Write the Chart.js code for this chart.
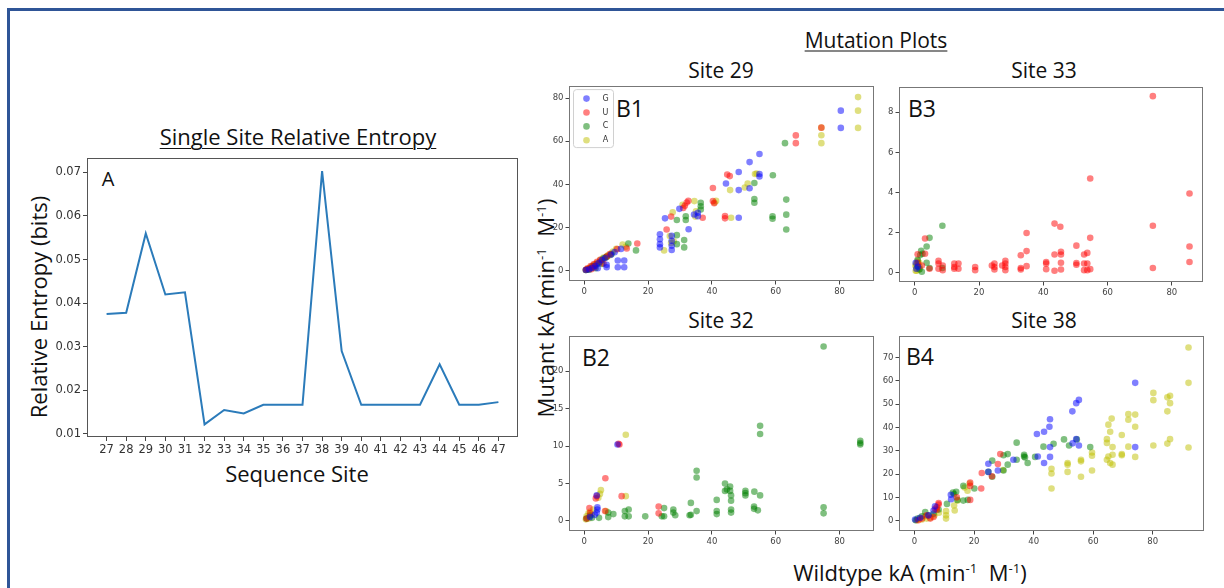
<!DOCTYPE html>
<html>
<head>
<meta charset="utf-8">
<script src="https://cdn.jsdelivr.net/npm/chart.js@4/dist/chart.umd.min.js"></script>
<style>
  html, body { margin: 0; padding: 0; background: #fff; }
  body { width: 1224px; height: 588px; position: relative; overflow: hidden; font-family: "Open Sans", sans-serif; color: #111; }
  canvas { position: absolute; }
  .txt { position: absolute; white-space: nowrap; line-height: 1; transform: translate(-50%, -50%); }
  .ul { text-decoration: underline; text-underline-offset: 3px; text-decoration-thickness: 1px; }
  .vert { transform: translate(-50%, -50%) rotate(-90deg); }
  sup { font-size: 60%; vertical-align: 0.6em; line-height: 0; }
  .bar { position: absolute; background: #2f5597; }
</style>
</head>
<body>
<div class="bar" style="left:7px; top:8px; width:1217px; height:3px;"></div>
<div class="bar" style="left:7px; top:8px; width:3px; height:580px;"></div>

<div class="txt ul" style="left:298px; top:136px; font-size:22px;">Single Site Relative Entropy</div>
<div class="txt vert" style="left:38px; top:307px; font-size:22px;">Relative Entropy (bits)</div>
<div class="txt" style="left:297px; top:473px; font-size:22px;">Sequence Site</div>
<div class="txt" style="left:108px; top:179px; font-size:20px;">A</div>

<div class="txt ul" style="left:876px; top:40px; font-size:21px;">Mutation Plots</div>
<div class="txt" style="left:721px; top:70px; font-size:21px;">Site 29</div>
<div class="txt" style="left:1044px; top:70px; font-size:21px;">Site 33</div>
<div class="txt" style="left:721px; top:320px; font-size:21px;">Site 32</div>
<div class="txt" style="left:1044px; top:320px; font-size:21px;">Site 38</div>
<div class="txt vert" style="left:545px; top:308px; font-size:22px;">Mutant kA (min<sup>-1</sup>&nbsp; M<sup>-1</sup>)</div>
<div class="txt" style="left:910px; top:572px; font-size:22px;">Wildtype kA (min<sup>-1</sup>&nbsp; M<sup>-1</sup>)</div>
<div class="txt" style="left:630px; top:108px; font-size:23px;">B1</div>
<div class="txt" style="left:922px; top:108px; font-size:23px;">B3</div>
<div class="txt" style="left:596px; top:357px; font-size:23px;">B2</div>
<div class="txt" style="left:920px; top:356px; font-size:23px;">B4</div>

<canvas id="entropyChart"></canvas>
<canvas id="site29Chart"></canvas>
<canvas id="site33Chart"></canvas>
<canvas id="site32Chart"></canvas>
<canvas id="site38Chart"></canvas>

<script>
// relative entropy per sequence site
const sites = [27, 28, 29, 30, 31, 32, 33, 34, 35, 36, 37, 38, 39, 40, 41, 42, 43, 44, 45, 46, 47];
const entropy = [0.0375, 0.0378, 0.0560, 0.0420, 0.0425, 0.0122, 0.0155, 0.0147, 0.0167, 0.0167, 0.0167,
  0.0703, 0.0290, 0.0167, 0.0167, 0.0167, 0.0167, 0.0260, 0.0167, 0.0167, 0.0173];
const entropyTicks = [0.01, 0.02, 0.03, 0.04, 0.05, 0.06, 0.07];

const bases = ["G", "U", "C", "A"];
const baseColors = ["rgba(0,0,255,0.5)", "rgba(255,0,0,0.5)", "rgba(0,128,0,0.5)", "rgba(191,191,0,0.5)"];
const wildTicks = [0, 20, 40, 60, 80];

// site 29: [wildtype kA, mutant kA]
const site29G = [[80.4,74.2],[80.4,66.2],[54.9,54.1],[51.8,50.3],[48.4,45.7],[54.9,44.8],[54.9,43.6],[44.4,40.4],[51.8,38.2],[48.4,37.3],[48.4,24.5],
  [35.6,26.8],[35.6,25.2],[34.4,26.0],[29.8,28.6],[25.3,24.2],[32.7,19.1],[23.7,16.8],[23.7,14.5],[23.7,12.2],[23.7,10.7],
  [27.4,16.1],[27.4,13.8],[27.4,11.5],[27.4,9.5],[12.5,4.6],[12.5,1.5],[10.5,4.6],[10.5,1.5],[7.0,2.6],[7.0,1.5],
  [0.5,0.2],[1.5,0.5],[2.5,1.2],[3.5,2.2],[4.5,3.4],[5.5,4.8],[6.5,5.8],[4.2,1.0],[11.5,10.0],[8.3,7.3],[9.5,8.5]];
const site29U = [[74.3,66.3],[66.3,62.7],[66.3,59.1],[44.8,44.5],[45.6,43.8],[40.3,38.3],[40.3,32.2],[40.7,31.2],[44.1,25.3],[44.1,24.2],[37.1,24.5],
  [32.6,32.3],[32.1,31.5],[31.5,30.0],[31.0,29.0],[27.2,25.0],[25.8,19.0],[16.6,12.5],[13.3,10.2],[10.3,9.9],[8.0,7.6],[7.0,6.5],
  [5.0,5.0],[4.0,4.0],[3.0,3.0],[2.0,2.0],[1.0,1.0],[0.5,0.3],[6.0,3.2],[3.2,1.5],[2.2,0.6]];
const site29C = [[62.9,59.1],[59.1,44.2],[53.3,40.6],[53.3,33.2],[53.3,31.4],[63.3,32.9],[63.3,25.9],[63.3,19.0],[59.0,25.2],[59.0,24.0],
  [36.5,31.4],[36.5,29.8],[36.5,28.3],[31.8,25.2],[31.8,23.4],[29.0,23.4],[29.0,16.4],[29.0,12.2],[31.3,14.1],[31.3,10.7],
  [13.8,12.5],[16.2,9.3],[0.5,0.2],[1.0,0.5],[2.0,1.0],[3.0,2.0],[4.0,3.0],[5.0,4.0],[6.0,5.5],[7.0,6.3],[5.5,3.0],[3.5,1.0],[2.5,2.0],[1.5,0.3],[8.5,7.5]];
const site29A = [[85.8,80.5],[85.8,74.2],[85.8,66.2],[74.3,66.3],[74.3,62.8],[74.3,59.1],[53.5,44.8],[54.0,45.0],[51.2,40.3],[50.3,38.5],[45.7,37.3],[46.0,24.5],
  [41.3,32.3],[40.8,31.5],[34.5,32.2],[35.0,27.5],[34.8,25.0],[27.7,27.0],[26.8,16.0],[28.0,13.5],[27.2,12.8],[25.0,9.3],[30.8,30.5],
  [12.0,12.0],[13.0,11.0],[10.0,10.0],[9.0,8.8],[8.0,7.0],[7.0,6.5],[6.0,6.0],[5.0,5.0],[4.0,3.5],[3.0,2.5],[2.0,1.5],[1.0,0.5],[0.5,0.2],
  [8.5,8.0],[7.5,7.2],[6.5,5.8],[5.5,4.8],[3.5,3.0],[1.5,1.0]];

// site 33
const site33G = [[0.5,0.2],[1.0,0.3],[0.3,0.5]];
const site33U = [[74.1,8.8],[54.6,4.7],[85.5,3.95],[74.1,2.34],[85.5,1.31],[85.5,0.54],[74.1,0.24],[54.6,1.74],[43.5,2.45],[45.3,2.29],
  [34.8,1.98],[34.8,1.08],[33.0,0.87],[50.3,1.35],[53.7,0.99],[52.7,0.91],[45.5,0.91],[45.5,1.05],[43.5,0.91],[40.9,0.54],[40.9,0.46],
  [45.5,0.5],[50.3,0.49],[50.3,0.4],[52.7,0.46],[53.7,0.46],[52.7,0.13],[54.6,0.18],[53.7,0.13],[45.5,0.16],[43.5,0.1],[40.9,0.18],
  [34.8,0.33],[33.0,0.24],[33.0,0.16],[28.2,0.59],[28.2,0.46],[28.2,0.29],[28.2,0.13],[27.2,0.36],[24.8,0.46],[24.8,0.29],[24.8,0.16],
  [24.0,0.36],[18.8,0.29],[18.8,0.13],[13.6,0.46],[13.6,0.2],[12.3,0.46],[12.3,0.2],[12.3,0.29],[8.7,0.36],[8.7,0.13],[7.4,0.46],
  [7.4,0.2],[7.4,0.59],[4.6,0.2],[3.2,1.71],[3.2,0.95],[0.9,0.92],[0.9,0.5],[2.2,0.36]];
const site33C = [[8.6,2.34],[4.6,1.74],[3.7,1.31],[3.7,0.5],[2.0,1.1],[1.7,0.88],[2.4,0.95],[0.9,0.65],[0.9,0.33],[1.5,0.18],[4.6,0.24],[8.6,0.24],[2.2,0.05]];
const site33A = [[0.3,0.1],[0.5,0.3],[0.7,0.2],[1.0,0.4],[1.2,0.15],[0.8,0.5],[1.5,0.3],[0.4,0.45],[1.1,0.25],[0.6,0.1],[1.4,0.5],[0.9,0.6],[0.2,0.35]];

// site 32
const site32G = [[10.4,10.2],[3.9,3.4],[4.1,1.8],[4.1,1.5],[3.9,1.1],[3.3,0.8],[1.8,0.5]];
const site32U = [[10.7,10.3],[11.0,10.2],[6.6,5.7],[11.7,3.3],[23.3,1.9],[23.3,1.0],[3.9,3.3],[3.6,3.0],[1.6,1.7],[1.8,1.0],[0.7,0.3],[6.5,1.3]];
const site32C = [[75.0,23.3],[55.1,12.7],[55.1,11.6],[86.5,10.7],[86.5,10.4],[86.5,10.2],[35.2,6.7],[35.2,5.8],[35.2,1.3],[33.4,2.4],[33.4,0.8],
  [44.1,5.0],[44.1,4.0],[44.7,4.2],[45.7,4.6],[45.7,4.0],[46.0,3.4],[46.0,2.7],[46.0,1.5],[46.0,1.1],[41.5,2.8],[41.5,1.3],[41.5,0.9],
  [50.5,4.0],[50.5,3.7],[50.5,3.4],[53.3,3.9],[55.1,3.4],[53.2,1.9],[53.2,1.6],[54.4,1.4],[75.0,1.8],[75.0,1.0],[27.9,1.5],[27.9,1.1],
  [28.5,0.75],[25.0,1.7],[24.3,0.6],[25.0,0.6],[19.1,0.6],[13.9,1.5],[12.7,1.3],[12.7,0.6],[13.9,0.6],[9.1,0.9],[7.5,1.1],[7.5,0.5],
  [4.6,0.4],[33.0,0.75],[2.4,0.4],[0.7,0.3],[1.8,0.7]];
const site32A = [[13.0,11.5],[13.0,3.3],[5.2,4.1],[4.9,3.6],[4.4,3.1],[6.8,1.3],[1.3,1.0],[0.7,0.6],[0.5,0.2],[1.8,1.2],[2.3,0.8],[1.4,0.3],[2.8,1.5]];

// site 38
const site38G = [[74.1,59.1],[74.1,31.6],[55.2,51.8],[54.3,50.4],[53.0,46.9],[54.3,35.0],[55.2,32.3],[53.1,33.2],[45.5,43.5],[45.3,40.3],
  [43.5,38.2],[41.1,37.2],[41.4,27.6],[45.5,31.6],[45.5,27.4],[43.5,24.8],[33.2,26.2],[28.0,21.6],[24.8,24.5],[24.8,21.0],[12.2,11.2],
  [12.3,9.3],[6.9,6.3],[6.4,4.5],[4.7,2.4],[1.9,1.4],[0.2,0.6]];
const site38U = [[28.8,28.6],[28.0,24.4],[22.6,20.5],[22.4,13.9],[18.7,16.4],[18.7,15.0],[18.7,9.0],[14.2,10.1],[8.1,7.7],[8.1,7.0],
  [7.5,5.9],[6.9,5.2],[7.5,4.8],[6.4,1.7],[5.3,1.0],[4.1,2.4],[2.5,1.0],[1.3,0.3],[26.0,19.1]];
const site38C = [[54.5,34.9],[51.9,32.3],[50.2,34.9],[59.0,31.6],[34.3,33.5],[46.7,33.0],[43.3,31.8],[36.8,28.3],[36.8,27.6],[37.1,27.2],
  [38.0,24.8],[40.5,27.4],[34.3,26.2],[31.3,28.6],[31.3,24.1],[29.9,28.1],[29.9,21.6],[26.1,25.8],[26.1,18.9],[24.8,21.0],[20.1,13.9],
  [16.4,15.0],[17.9,9.0],[16.4,8.7],[14.4,9.0],[14.0,12.5],[12.9,12.1],[13.3,11.5],[10.9,7.3],[8.1,4.9],[6.4,3.1],[4.7,2.4],[3.6,3.8],
  [2.5,2.0],[1.0,1.0],[0.4,0.3]];
const site38A = [[92.0,74.2],[92.0,59.1],[92.0,31.4],[80.2,54.8],[80.2,51.7],[80.2,32.3],[84.9,52.9],[85.8,53.6],[85.8,50.4],[84.9,46.9],
  [85.8,35.0],[84.9,33.1],[71.8,45.7],[74.1,45.5],[71.8,43.3],[74.1,40.3],[71.8,31.8],[74.1,27.4],[69.6,36.8],[69.6,28.6],[69.6,28.1],
  [66.2,43.8],[65.1,41.2],[65.7,38.2],[66.5,31.6],[64.6,35.0],[64.6,33.4],[65.1,27.6],[66.5,28.3],[64.6,26.2],[65.7,24.8],[66.5,24.1],
  [59.6,29.3],[59.6,27.9],[59.6,21.6],[55.9,26.2],[55.9,25.5],[55.9,18.9],[51.4,24.8],[51.4,24.1],[51.4,21.0],[46.0,22.3],[46.0,20.3],
  [46.0,13.9],[16.8,14.3],[17.8,12.9],[18.5,16.0],[14.5,8.7],[13.3,6.6],[13.5,4.5],[10.6,4.2],[10.6,2.4],[10.6,1.0],[8.2,3.5],[6.7,2.4],
  [5.3,1.4],[4.1,1.0],[2.5,0.6],[0.8,0.3],[1.7,1.1],[3.6,2.0],[29.7,21.8]];

// box around the plot area, drawn over the points like matplotlib spines
const frame = {
  id: "frame",
  afterDraw(chart, args, opts) {
    const { ctx, chartArea: a } = chart;
    ctx.save();
    ctx.strokeStyle = opts.color || "#666";
    ctx.lineWidth = 1;
    ctx.strokeRect(Math.round(a.left) + 0.5, Math.round(a.top) + 0.5,
      Math.round(a.right - a.left) - 1, Math.round(a.bottom - a.top) - 1);
    ctx.restore();
  },
};

// small legend in the upper-left corner of the plot
const insetLegend = {
  id: "insetLegend",
  afterDatasetsDraw(chart, args, opts) {
    if (!opts.show) return;
    const { ctx, chartArea: a } = chart;
    const x0 = a.left + 4.5, y0 = a.top + 3.5, w = 40, h = 58, r = 3;
    ctx.save();
    ctx.beginPath();
    ctx.roundRect(x0, y0, w, h, r);
    ctx.fillStyle = "rgba(255,255,255,0.8)";
    ctx.fill();
    ctx.strokeStyle = "#d0d0d0";
    ctx.lineWidth = 1;
    ctx.stroke();
    ctx.font = "8px 'DejaVu Sans'";
    ctx.textBaseline = "middle";
    ctx.textAlign = "center";
    chart.data.datasets.forEach((ds, i) => {
      const cy = y0 + 9 + i * 13.9;
      ctx.beginPath();
      ctx.arc(x0 + 13, cy, 3.3, 0, Math.PI * 2);
      ctx.fillStyle = ds.backgroundColor;
      ctx.fill();
      ctx.fillStyle = "#333";
      ctx.fillText(ds.label, x0 + 32, cy);
    });
    ctx.restore();
  },
};

function place(canvas, box, pad) {
  canvas.width = box.w + pad.l + pad.r;
  canvas.height = box.h + pad.t + pad.b;
  canvas.style.left = box.x - pad.l + "px";
  canvas.style.top = box.y - pad.t + "px";
}

function axis(min, max, values, fit, fontSize, color, tickLen, fmt) {
  return {
    type: "linear",
    min: min,
    max: max,
    afterBuildTicks: (s) => { s.ticks = values.map((v) => ({ value: v })); },
    afterFit: fit,
    grid: { drawOnChartArea: false, drawTicks: true, tickLength: tickLen, color: "#444", lineWidth: 1 },
    border: { display: false },
    ticks: {
      font: { family: "DejaVu Sans", size: fontSize },
      color: color,
      padding: 2,
      maxRotation: 0,
      autoSkip: false,
      callback: fmt,
    },
  };
}

// entropy line plot
const entropyCanvas = document.getElementById("entropyChart");
const entropyPad = { l: 60, t: 10, r: 10, b: 30 };
place(entropyCanvas, { x: 87, y: 158, w: 431, h: 279 }, entropyPad);
new Chart(entropyCanvas, {
  type: "line",
  data: {
    datasets: [{
      data: sites.map((s, i) => ({ x: s, y: entropy[i] })),
      borderColor: "#2b7bba",
      borderWidth: 2,
      pointRadius: 0,
      tension: 0,
      fill: false,
    }],
  },
  options: {
    responsive: false,
    animation: false,
    events: [],
    layout: { padding: { left: 0, top: entropyPad.t, right: entropyPad.r, bottom: 0 } },
    plugins: { legend: { display: false }, tooltip: { enabled: false }, frame: { color: "#555" } },
    scales: {
      x: axis(26, 48, sites, (s) => { s.height = entropyPad.b; }, 11.5, "#333", 4, (v) => v),
      y: axis(0.0093, 0.0733, entropyTicks, (s) => { s.width = entropyPad.l; }, 11.5, "#333", 4, (v) => v.toFixed(2)),
    },
  },
  plugins: [frame],
});

function scatterPanel(id, box, series, xr, yr, yTicks, withLegend) {
  const canvas = document.getElementById(id);
  const pad = { l: 30, t: 4, r: 4, b: 18 };
  place(canvas, box, pad);
  new Chart(canvas, {
    type: "scatter",
    data: {
      datasets: series.map((pts, i) => ({
        label: bases[i],
        data: pts.map((p) => ({ x: p[0], y: p[1] })),
        backgroundColor: baseColors[i],
        borderWidth: 0,
        pointRadius: 3.3,
      })),
    },
    options: {
      responsive: false,
      animation: false,
      events: [],
      layout: { padding: { left: 0, top: pad.t, right: pad.r, bottom: 0 } },
      plugins: {
        legend: { display: false },
        tooltip: { enabled: false },
        frame: { color: "#777" },
        insetLegend: { show: withLegend },
      },
      scales: {
        x: axis(xr[0], xr[1], wildTicks, (s) => { s.height = pad.b; }, 8.5, "#444", 3.5, (v) => v),
        y: axis(yr[0], yr[1], yTicks, (s) => { s.width = pad.l; }, 8.5, "#444", 3.5, (v) => v),
      },
    },
    plugins: [frame, insetLegend],
  });
}

scatterPanel("site29Chart", { x: 569, y: 83, w: 305, h: 198 },
  [site29G, site29U, site29C, site29A], [-4.8, 90.8], [-4.9, 85.6], [0, 20, 40, 60, 80], true);
scatterPanel("site33Chart", { x: 899, y: 84, w: 304, h: 198 },
  [site33G, site33U, site33C, site33A], [-4.9, 89.7], [-0.46, 9.25], [0, 2, 4, 6, 8], false);
scatterPanel("site32Chart", { x: 569, y: 333, w: 305, h: 198 },
  [site32G, site32U, site32C, site32A], [-4.8, 90.8], [-1.36, 24.7], [0, 5, 10, 15, 20], false);
scatterPanel("site38Chart", { x: 899, y: 333, w: 305, h: 198 },
  [site38G, site38U, site38C, site38A], [-5.2, 97.2], [-4.3, 79.1], [0, 10, 20, 30, 40, 50, 60, 70], false);
</script>
</body>
</html>
